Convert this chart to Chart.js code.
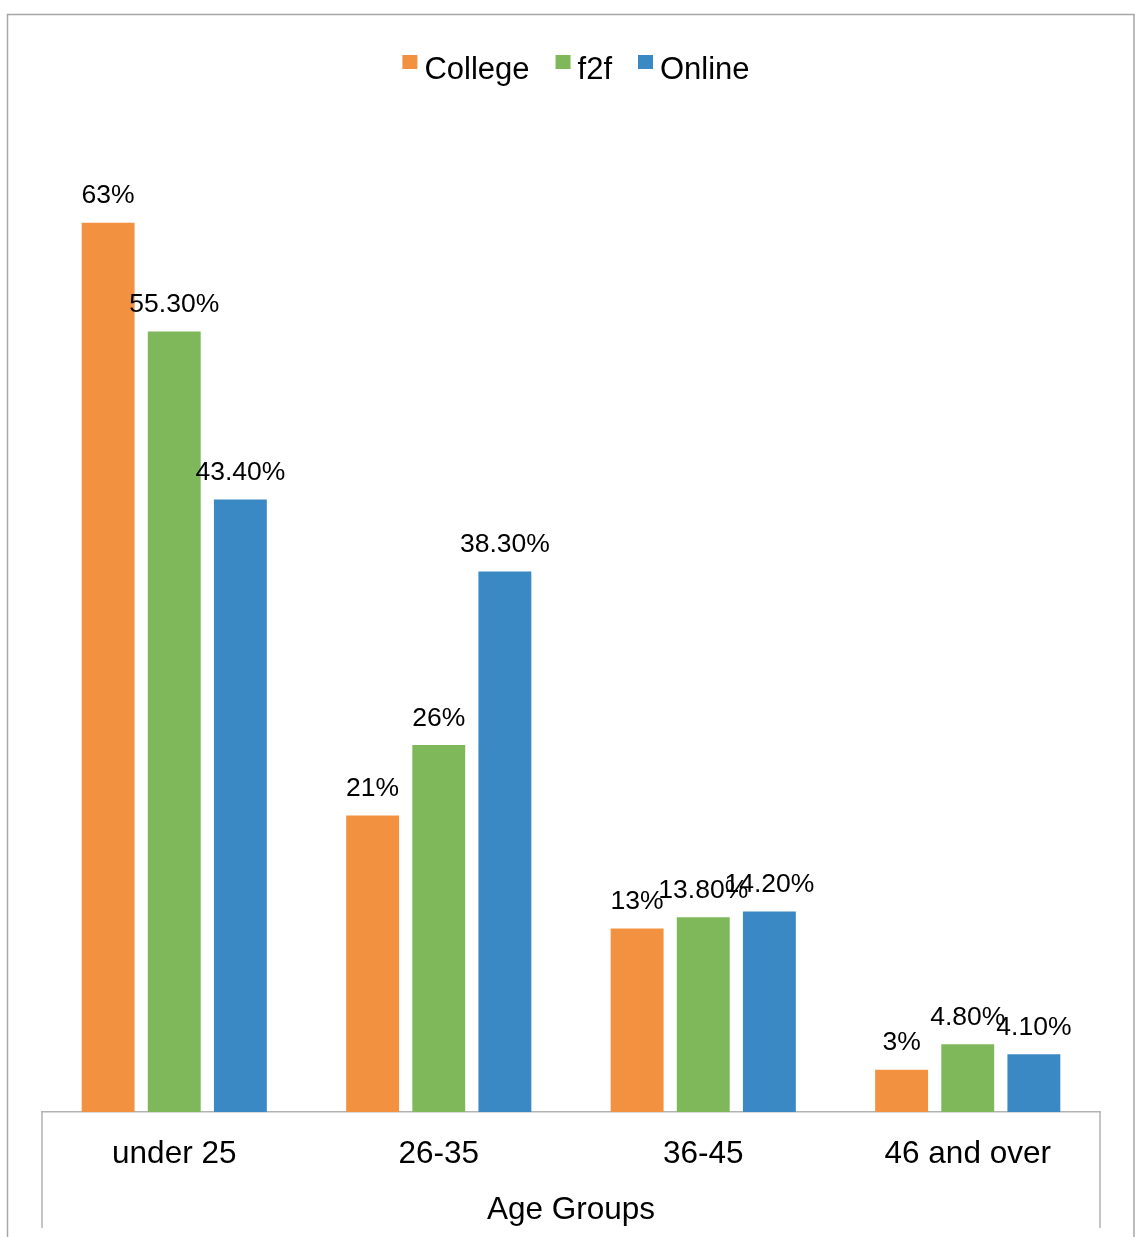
<!DOCTYPE html>
<html>
<head>
<meta charset="utf-8">
<style>
  html,body{margin:0;padding:0;background:#fff;}
  #wrap{position:relative;width:1136px;height:1237px;}
</style>
<script src="https://cdn.jsdelivr.net/npm/chart.js@4/dist/chart.umd.min.js"></script>
</head>
<body>
<div id="wrap"><canvas id="ageChart" width="1136" height="1237"></canvas></div>
<script>
const categories = ["under 25", "26-35", "36-45", "46 and over"];
const collegeVals = [63, 21, 13, 3];
const f2fVals = [55.3, 26, 13.8, 4.8];
const onlineVals = [43.4, 38.3, 14.2, 4.1];
const seriesNames = ["College", "f2f", "Online"];
const seriesColors = ["#F29140", "#7FB85A", "#3A89C4"];

const FONT = "'Liberation Sans', Arial, Helvetica, sans-serif";
const pct = v => (Number.isInteger(v) ? v : v.toFixed(2)) + "%";

// frame around the whole chart + the box under the category axis
const framePlugin = {
  id: "frame",
  beforeDraw(chart) {
    const c = chart.ctx;
    c.save();
    c.fillStyle = "#fff";
    c.fillRect(0, 0, chart.width, chart.height);
    c.strokeStyle = "#a6a6a6";
    c.lineWidth = 1.5;
    c.beginPath();
    c.moveTo(7.5, chart.height);
    c.lineTo(7.5, 14.5);
    c.lineTo(1134, 14.5);
    c.lineTo(1134, chart.height);
    c.stroke();
    const x = chart.scales.x, a = chart.chartArea;
    c.strokeStyle = "#b3b3b3";
    c.lineWidth = 1.5;
    c.beginPath();
    c.moveTo(a.left, a.bottom);
    c.lineTo(a.left, x.bottom);
    c.moveTo(a.right, a.bottom);
    c.lineTo(a.right, x.bottom);
    c.stroke();
    c.restore();
  }
};

// value labels above every bar
const valueLabels = {
  id: "valueLabels",
  afterDatasetsDraw(chart) {
    const c = chart.ctx;
    c.save();
    c.font = "26.5px " + FONT;
    c.fillStyle = "#000";
    c.textAlign = "center";
    c.textBaseline = "alphabetic";
    chart.data.datasets.forEach((ds, i) => {
      chart.getDatasetMeta(i).data.forEach((bar, j) => {
        c.fillText(pct(ds.data[j]), bar.x, bar.y - 19.5);
      });
    });
    c.restore();
  }
};

// legend row at the top
const topLegend = {
  id: "topLegend",
  afterDraw(chart) {
    const c = chart.ctx;
    c.save();
    c.font = "31px " + FONT;
    c.textBaseline = "alphabetic";
    const box = 15, gapText = 7, gapItem = 26;
    const items = chart.data.datasets.map(ds => ({ label: ds.label, color: ds.backgroundColor, w: c.measureText(ds.label).width }));
    let total = items.reduce((s, it) => s + box + gapText + it.w, 0) + gapItem * (items.length - 1);
    let x = 576 - total / 2;
    items.forEach(it => {
      c.fillStyle = it.color;
      c.fillRect(x, 55, box, 14);
      c.fillStyle = "#000";
      c.fillText(it.label, x + box + gapText, 79);
      x += box + gapText + it.w + gapItem;
    });
    c.restore();
  }
};

new Chart(document.getElementById("ageChart"), {
  type: "bar",
  data: {
    labels: categories,
    datasets: [collegeVals, f2fVals, onlineVals].map((d, i) => ({
      label: seriesNames[i],
      data: d,
      backgroundColor: seriesColors[i],
      borderWidth: 0,
      categoryPercentage: 0.75,
      barPercentage: 0.8
    }))
  },
  options: {
    responsive: false,
    animation: false,
    layout: { padding: { top: 124, left: 42, right: 36, bottom: 9 } },
    plugins: { legend: { display: false }, tooltip: { enabled: false } },
    scales: {
      x: {
        grid: { display: false, drawTicks: false },
        border: { display: true, color: "#b3b3b3", width: 1.5 },
        ticks: { color: "#000", font: { family: FONT, size: 31.5 }, padding: 23, maxRotation: 0, autoSkip: false },
        title: { display: true, text: "Age Groups", color: "#000", font: { family: FONT, size: 31.5 }, padding: { top: 0, bottom: -1 } },
        afterFit(s) { s.height = 116; }
      },
      y: { display: false, min: 0, max: 70 }
    }
  },
  plugins: [framePlugin, valueLabels, topLegend]
});
</script>
</body>
</html>
